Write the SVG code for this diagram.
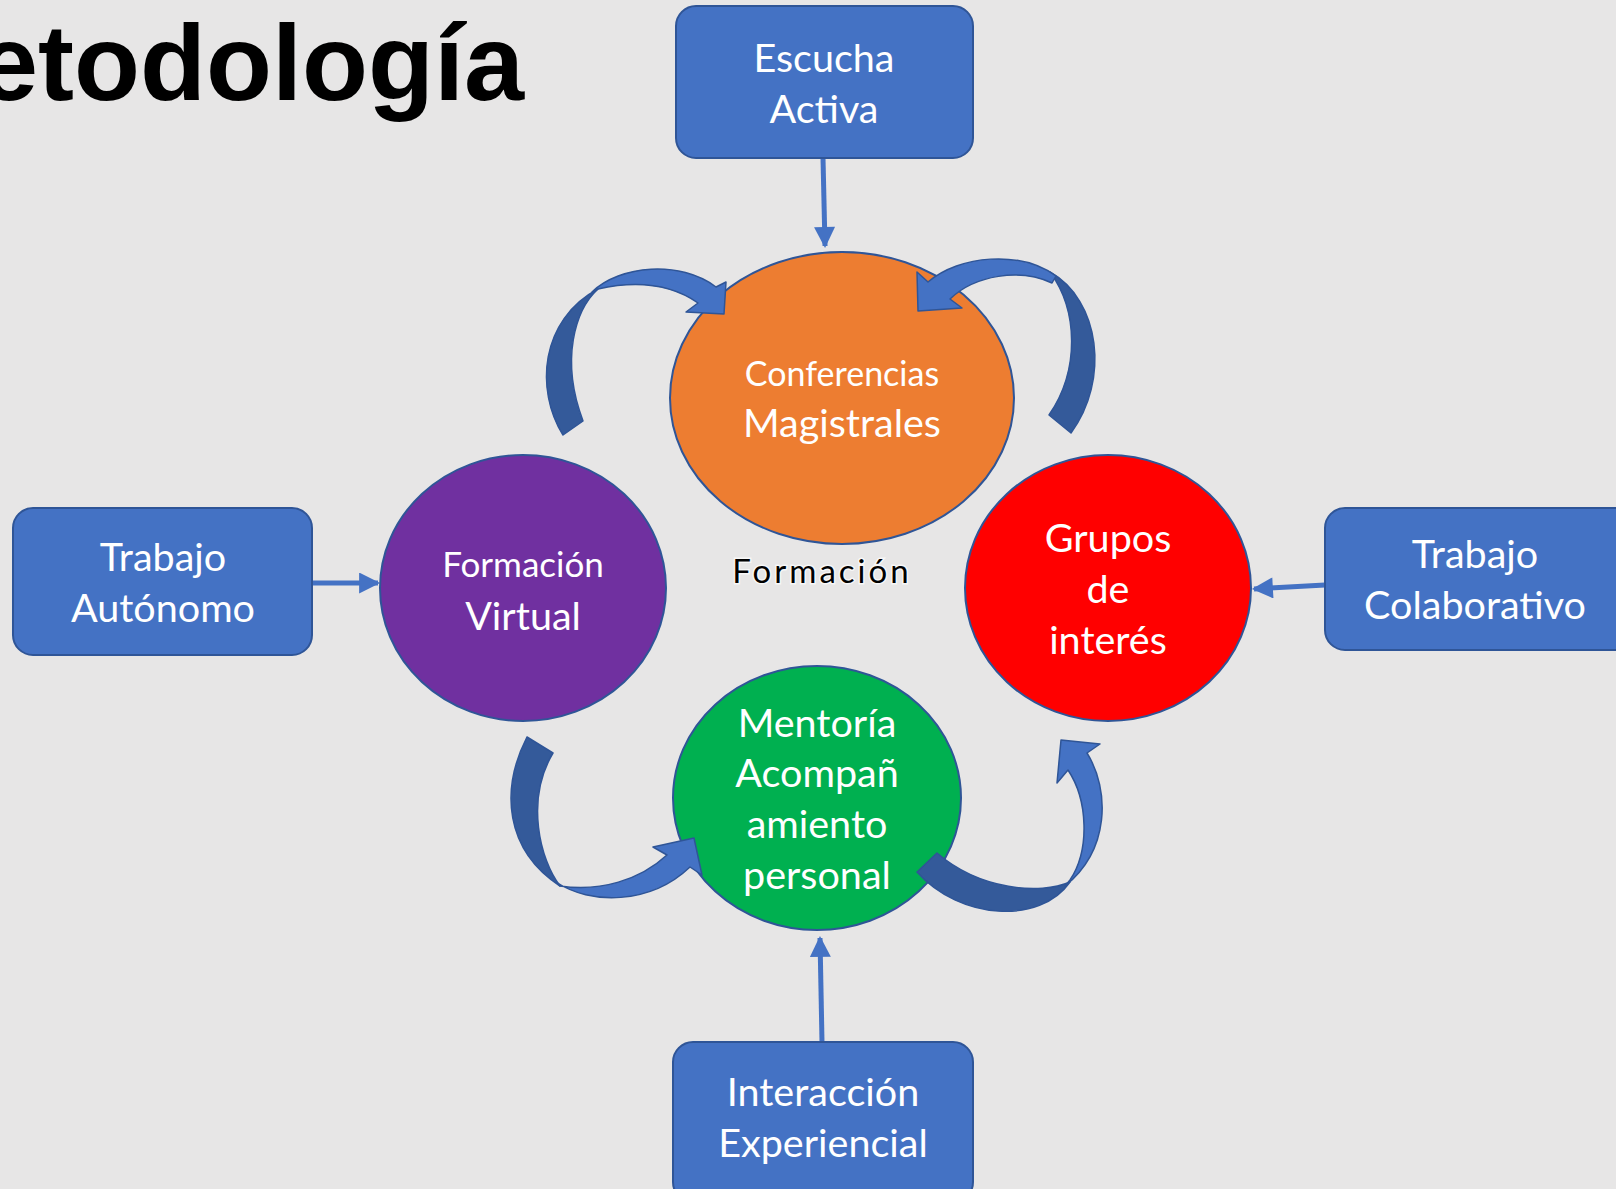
<svg xmlns="http://www.w3.org/2000/svg" width="1616" height="1189" viewBox="0 0 1616 1189">
<defs>
<style>
.box{fill:#4472c4;stroke:#2f5597;stroke-width:2}
.ell{stroke:#2f5597;stroke-width:2}
.t{font-family:Lato,"Open Sans","Liberation Sans",sans-serif;fill:#fff;text-anchor:middle;font-size:39.5px}
.conn{stroke:#4472c4;stroke-width:5;fill:none}
.lt{fill:#4472c4;stroke:#2f5597;stroke-width:1.5;stroke-linejoin:round}
.dk{fill:#345a9a;stroke:#2f5597;stroke-width:1.5;stroke-linejoin:round}
</style>
<marker id="ah" viewBox="0 0 10 10" refX="9" refY="5" markerWidth="4.6" markerHeight="4.2" orient="auto" markerUnits="strokeWidth">
<path d="M0,0 L10,5 L0,10 Z" fill="#4472c4"/>
</marker>
</defs>
<rect width="1616" height="1189" fill="#e7e6e6"/>
<text x="524" y="100" font-family="Liberation Sans,Arial,sans-serif" font-weight="bold" font-size="108" text-anchor="end" fill="#000">etodología</text>

<g id="connectors">
<line class="conn" x1="823" y1="158" x2="825" y2="246" marker-end="url(#ah)"/>
<line class="conn" x1="312" y1="583" x2="378" y2="583" marker-end="url(#ah)"/>
<line class="conn" x1="1325" y1="585" x2="1254" y2="589" marker-end="url(#ah)"/>
<line class="conn" x1="822" y1="1042" x2="820" y2="938" marker-end="url(#ah)"/>
</g>

<g id="node-conferencias">
<ellipse class="ell" cx="842" cy="398" rx="172" ry="146" fill="#ed7d31"/>
<text class="t" x="842" y="386" style="font-size:34px">Conferencias</text>
<text class="t" x="842" y="437">Magistrales</text>
</g>
<g id="node-virtual">
<ellipse class="ell" cx="523" cy="588" rx="143" ry="133" fill="#7030a0"/>
<text class="t" x="523" y="577" style="font-size:35px">Formación</text>
<text class="t" x="523" y="630">Virtual</text>
</g>
<g id="node-grupos">
<ellipse class="ell" cx="1108" cy="588" rx="143" ry="133" fill="#ff0000"/>
<text class="t" x="1108" y="552">Grupos</text>
<text class="t" x="1108" y="603">de</text>
<text class="t" x="1108" y="654">interés</text>
</g>
<g id="node-mentoria">
<ellipse class="ell" cx="817" cy="798" rx="144" ry="132" fill="#00b050"/>
<text class="t" x="817" y="737">Mentoría</text>
<text class="t" x="817" y="787">Acompañ</text>
<text class="t" x="817" y="838">amiento</text>
<text class="t" x="817" y="889">personal</text>
</g>
<g id="label-formacion">
<text x="822" y="583" font-family="Lato,'Open Sans',sans-serif" font-size="33" text-anchor="middle" fill="#000" stroke="#fff" stroke-width="3" stroke-opacity="0.7" paint-order="stroke" letter-spacing="3">Formación</text>
</g>

<g id="curved-arrows">
<path class="dk" d="M563,435 C535,390 540,320 598,289 C575,310 560,360 583,421 Z"/>
<path class="lt" d="M592,292 C620,265 680,260 716,287 L726,282 L724,314 L686,312 L698,303 C665,280 625,283 598,289 Z"/>
<path class="dk" d="M1050,272 C1100,300 1110,380 1071,433 L1049,415 C1080,370 1078,310 1050,272 Z"/>
<path class="lt" d="M1056,276 C1020,250 960,255 928,282 L917,272 L918,311 L962,308 L950,299 C975,275 1020,268 1052,283 Z"/>
<path class="dk" d="M527,737 C500,790 505,850 560,886 C540,860 525,800 553,753 Z"/>
<path class="lt" d="M556,882 C590,905 650,905 690,867 L702,875 L694,838 L653,847 L667,855 C640,880 600,892 560,886 Z"/>
<path class="dk" d="M917,872 C960,920 1040,925 1070,882 C1040,895 980,890 937,853 Z"/>
<path class="lt" d="M1065,886 C1110,850 1110,790 1087,753 L1100,744 L1061,740 L1057,783 L1068,770 C1088,800 1090,850 1070,880 Z"/>
</g>

<g id="node-escucha">
<rect class="box" x="676" y="6" width="297" height="152" rx="20"/>
<text class="t" x="824" y="72">Escucha</text>
<text class="t" x="824" y="123">Activa</text>
</g>
<g id="node-autonomo">
<rect class="box" x="13" y="508" width="299" height="147" rx="20"/>
<text class="t" x="163" y="571">Trabajo</text>
<text class="t" x="163" y="622">Autónomo</text>
</g>
<g id="node-colaborativo">
<rect class="box" x="1325" y="508" width="310" height="142" rx="20"/>
<text class="t" x="1475" y="568">Trabajo</text>
<text class="t" x="1475" y="619">Colaborativo</text>
</g>
<g id="node-interaccion">
<rect class="box" x="673" y="1042" width="300" height="160" rx="20"/>
<text class="t" x="823" y="1106">Interacción</text>
<text class="t" x="823" y="1157">Experiencial</text>
</g>
</svg>
